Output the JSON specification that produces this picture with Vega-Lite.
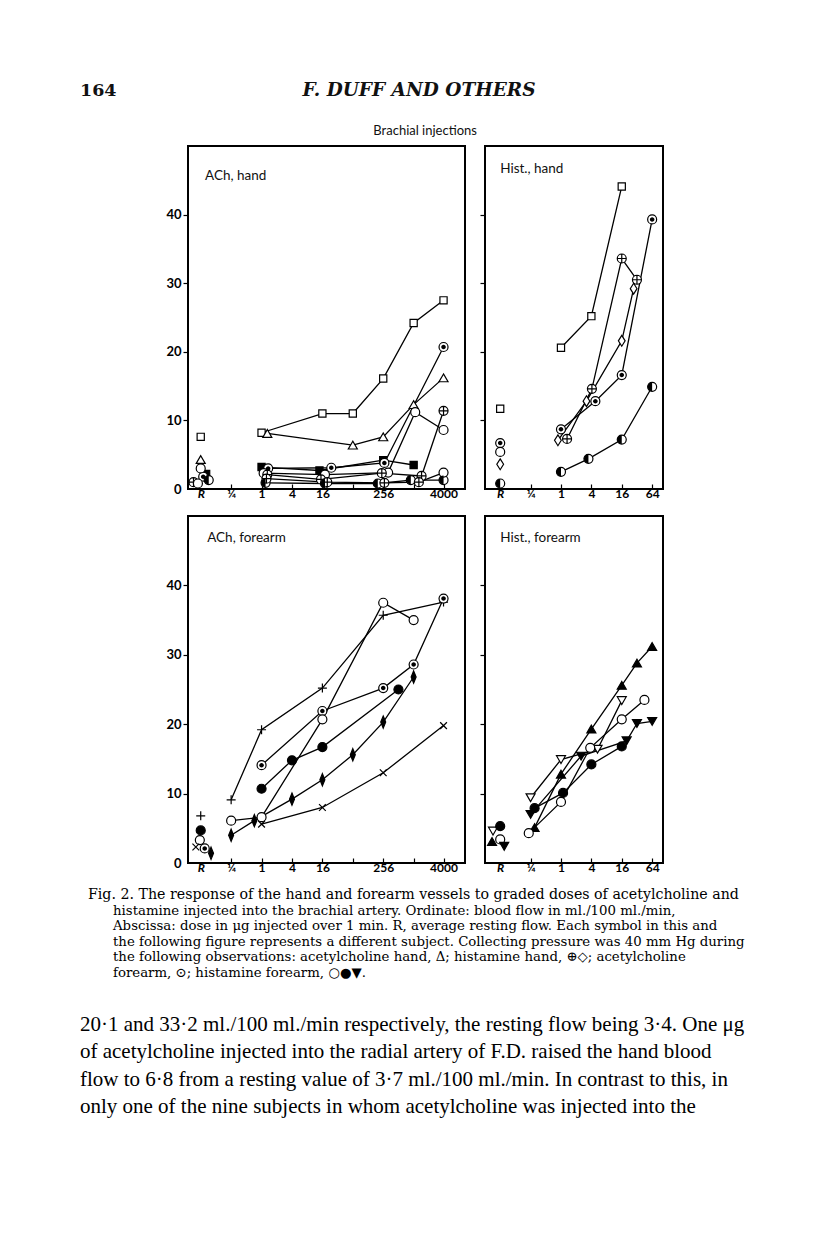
{
  "$schema": "https://vega.github.io/schema/vega-lite/v6.json",
  "background": "white",
  "padding": 0,
  "autosize": {"type": "pad"},
  "spacing": 0,
  "config": {"view": {"stroke": null}, "font": "Lato"},
  "datasets": {
    "ach_hand": [
      {"s": "sq", "sym": "sq", "dose": 1, "flow": 8.2},
      {"s": "sq", "sym": "sq", "dose": 16, "flow": 11.0},
      {"s": "sq", "sym": "sq", "dose": 64, "flow": 11.0},
      {"s": "sq", "sym": "sq", "dose": 256, "flow": 16.1},
      {"s": "sq", "sym": "sq", "dose": 1024, "flow": 24.2},
      {"s": "sq", "sym": "sq", "dose": 4000, "flow": 27.5},
      {"s": "Rsq", "sym": "sq", "dose": 0.0625, "flow": 7.6},
      {"s": "tri", "sym": "tri", "dose": 1.3, "flow": 8.1},
      {"s": "tri", "sym": "tri", "dose": 64, "flow": 6.4},
      {"s": "tri", "sym": "tri", "dose": 256, "flow": 7.6},
      {"s": "tri", "sym": "tri", "dose": 1024, "flow": 12.3},
      {"s": "tri", "sym": "tri", "dose": 4000, "flow": 16.2},
      {"s": "Rtri", "sym": "tri", "dose": 0.0625, "flow": 4.3},
      {"s": "A", "sym": "sqf", "dose": 1, "flow": 3.2},
      {"s": "A", "sym": "sqf", "dose": 14, "flow": 2.7},
      {"s": "A", "sym": "sqf", "dose": 256, "flow": 4.2},
      {"s": "A", "sym": "sqf", "dose": 1024, "flow": 3.5},
      {"s": "RA", "sym": "sqf", "dose": 0.08, "flow": 2.2},
      {"s": "B", "sym": "dot", "dose": 1.35, "flow": 3.0},
      {"s": "B", "sym": "dot", "dose": 24, "flow": 3.1},
      {"s": "B", "sym": "dot", "dose": 270, "flow": 3.8},
      {"s": "B", "sym": "dot", "dose": 4000, "flow": 20.7},
      {"s": "RB", "sym": "dot", "dose": 0.07, "flow": 1.8},
      {"s": "C", "sym": "circ", "dose": 1.1, "flow": 2.3},
      {"s": "C", "sym": "circ", "dose": 18, "flow": 2.1},
      {"s": "C", "sym": "circ", "dose": 320, "flow": 2.4},
      {"s": "C", "sym": "circ", "dose": 1100, "flow": 11.2},
      {"s": "C", "sym": "circ", "dose": 4000, "flow": 8.6},
      {"s": "RC", "sym": "circ", "dose": 0.0625, "flow": 3.0},
      {"s": "D", "sym": "plusc", "dose": 1.3, "flow": 2.1},
      {"s": "D", "sym": "plusc", "dose": 15, "flow": 1.4},
      {"s": "D", "sym": "plusc", "dose": 240, "flow": 2.3},
      {"s": "D", "sym": "plusc", "dose": 1470, "flow": 1.9},
      {"s": "D", "sym": "plusc", "dose": 4000, "flow": 11.4},
      {"s": "RD", "sym": "plusc", "dose": 0.045, "flow": 1.0},
      {"s": "E", "sym": "half", "dose": 1.2, "flow": 0.9},
      {"s": "E", "sym": "half", "dose": 18, "flow": 0.8},
      {"s": "E", "sym": "half", "dose": 200, "flow": 0.8},
      {"s": "E", "sym": "half", "dose": 900, "flow": 1.3},
      {"s": "E", "sym": "half", "dose": 4000, "flow": 1.3},
      {"s": "RE", "sym": "half", "dose": 0.09, "flow": 1.3},
      {"s": "F", "sym": "plusc", "dose": 1.25, "flow": 1.5},
      {"s": "F", "sym": "plusc", "dose": 20, "flow": 1.0},
      {"s": "F", "sym": "plusc", "dose": 270, "flow": 0.9},
      {"s": "F", "sym": "plusc", "dose": 1300, "flow": 1.0},
      {"s": "F", "sym": "circ", "dose": 4000, "flow": 2.4},
      {"s": "RF", "sym": "circ", "dose": 0.055, "flow": 0.8}
    ],
    "hist_hand": [
      {"s": "sq", "sym": "sq", "dose": 1, "flow": 20.6},
      {"s": "sq", "sym": "sq", "dose": 4, "flow": 25.2},
      {"s": "sq", "sym": "sq", "dose": 16, "flow": 44.1},
      {"s": "Rsq", "sym": "sq", "dose": 0.0625, "flow": 11.7},
      {"s": "dot", "sym": "dot", "dose": 1, "flow": 8.7},
      {"s": "dot", "sym": "dot", "dose": 4.8, "flow": 12.8},
      {"s": "dot", "sym": "dot", "dose": 16, "flow": 16.6},
      {"s": "dot", "sym": "dot", "dose": 64, "flow": 39.3},
      {"s": "Rdot", "sym": "dot", "dose": 0.0625, "flow": 6.7},
      {"s": "pc", "sym": "plusc", "dose": 1.32, "flow": 7.3},
      {"s": "pc", "sym": "plusc", "dose": 4.1, "flow": 14.6},
      {"s": "pc", "sym": "plusc", "dose": 16, "flow": 33.6},
      {"s": "pc", "sym": "plusc", "dose": 32, "flow": 30.5},
      {"s": "Rc", "sym": "circ", "dose": 0.0625, "flow": 5.4},
      {"s": "dia", "sym": "dia", "dose": 0.87, "flow": 7.1},
      {"s": "dia", "sym": "dia", "dose": 3.2, "flow": 12.8},
      {"s": "dia", "sym": "dia", "dose": 16, "flow": 21.6},
      {"s": "dia", "sym": "dia", "dose": 27.5, "flow": 29.2},
      {"s": "Rdia", "sym": "dia", "dose": 0.0625, "flow": 3.6},
      {"s": "half", "sym": "half", "dose": 1, "flow": 2.5},
      {"s": "half", "sym": "half", "dose": 3.5, "flow": 4.4},
      {"s": "half", "sym": "half", "dose": 16, "flow": 7.2},
      {"s": "half", "sym": "half", "dose": 64, "flow": 14.9},
      {"s": "Rhalf", "sym": "half", "dose": 0.0625, "flow": 0.8}
    ],
    "ach_forearm": [
      {"s": "plus", "sym": "plus", "dose": 0.25, "flow": 9.1},
      {"s": "plus", "sym": "plus", "dose": 1, "flow": 19.2},
      {"s": "plus", "sym": "plus", "dose": 16, "flow": 25.2},
      {"s": "plus", "sym": "plus", "dose": 256, "flow": 35.7},
      {"s": "plus", "sym": "plus", "dose": 4000, "flow": 37.6},
      {"s": "Rplus", "sym": "plus", "dose": 0.0625, "flow": 6.8},
      {"s": "dot", "sym": "dot", "dose": 1, "flow": 14.1},
      {"s": "dot", "sym": "dot", "dose": 16, "flow": 21.9},
      {"s": "dot", "sym": "dot", "dose": 256, "flow": 25.2},
      {"s": "dot", "sym": "dot", "dose": 1024, "flow": 28.6},
      {"s": "dot", "sym": "dot", "dose": 4000, "flow": 38.1},
      {"s": "Rdot", "sym": "dot", "dose": 0.075, "flow": 2.1},
      {"s": "circ", "sym": "circ", "dose": 0.25, "flow": 6.1},
      {"s": "circ", "sym": "circ", "dose": 1, "flow": 6.6},
      {"s": "circ", "sym": "circ", "dose": 16, "flow": 20.7},
      {"s": "circ", "sym": "circ", "dose": 256, "flow": 37.5},
      {"s": "circ", "sym": "circ", "dose": 1024, "flow": 35.0},
      {"s": "Rcirc", "sym": "circ", "dose": 0.06, "flow": 3.3},
      {"s": "circf", "sym": "circf", "dose": 1, "flow": 10.7},
      {"s": "circf", "sym": "circf", "dose": 4, "flow": 14.8},
      {"s": "circf", "sym": "circf", "dose": 16, "flow": 16.7},
      {"s": "circf", "sym": "circf", "dose": 512, "flow": 25.0},
      {"s": "Rcircf", "sym": "circf", "dose": 0.0625, "flow": 4.7},
      {"s": "diaf", "sym": "diaf", "dose": 0.25, "flow": 4.0},
      {"s": "diaf", "sym": "diaf", "dose": 0.72, "flow": 6.1},
      {"s": "diaf", "sym": "diaf", "dose": 4, "flow": 9.2},
      {"s": "diaf", "sym": "diaf", "dose": 16, "flow": 12.0},
      {"s": "diaf", "sym": "diaf", "dose": 64, "flow": 15.6},
      {"s": "diaf", "sym": "diaf", "dose": 256, "flow": 20.3},
      {"s": "diaf", "sym": "diaf", "dose": 1024, "flow": 26.8},
      {"s": "Rdiaf", "sym": "diaf", "dose": 0.1, "flow": 1.4},
      {"s": "x", "sym": "x", "dose": 1, "flow": 5.6},
      {"s": "x", "sym": "x", "dose": 16, "flow": 8.0},
      {"s": "x", "sym": "x", "dose": 256, "flow": 13.0},
      {"s": "x", "sym": "x", "dose": 4000, "flow": 19.8},
      {"s": "Rx", "sym": "x", "dose": 0.05, "flow": 2.3}
    ],
    "hist_forearm": [
      {"s": "trif", "sym": "trif", "dose": 0.3, "flow": 5.1},
      {"s": "trif", "sym": "trif", "dose": 1, "flow": 12.8},
      {"s": "trif", "sym": "trif", "dose": 4, "flow": 19.3},
      {"s": "trif", "sym": "trif", "dose": 16, "flow": 25.6},
      {"s": "trif", "sym": "trif", "dose": 32, "flow": 28.8},
      {"s": "trif", "sym": "trif", "dose": 64, "flow": 31.2},
      {"s": "Rtrif", "sym": "trif", "dose": 0.0431, "flow": 3.1},
      {"s": "trid", "sym": "trid", "dose": 0.25, "flow": 9.4},
      {"s": "trid", "sym": "trid", "dose": 1, "flow": 14.9},
      {"s": "trid", "sym": "trid", "dose": 5.3, "flow": 16.4},
      {"s": "trid", "sym": "trid", "dose": 16, "flow": 23.4},
      {"s": "Rtrid", "sym": "trid", "dose": 0.045, "flow": 4.6},
      {"s": "circ", "sym": "circ", "dose": 0.23, "flow": 4.3},
      {"s": "circ", "sym": "circ", "dose": 1, "flow": 8.8},
      {"s": "circ", "sym": "circ", "dose": 3.8, "flow": 16.6},
      {"s": "circ", "sym": "circ", "dose": 16, "flow": 20.7},
      {"s": "circ", "sym": "circ", "dose": 45, "flow": 23.5},
      {"s": "Rcirc", "sym": "circ", "dose": 0.0625, "flow": 3.4},
      {"s": "circf", "sym": "circf", "dose": 0.3, "flow": 7.9},
      {"s": "circf", "sym": "circf", "dose": 1.1, "flow": 10.1},
      {"s": "circf", "sym": "circf", "dose": 4, "flow": 14.2},
      {"s": "circf", "sym": "circf", "dose": 16, "flow": 16.8},
      {"s": "Rcircf", "sym": "circf", "dose": 0.0625, "flow": 5.3},
      {"s": "tridf", "sym": "tridf", "dose": 0.25, "flow": 7.0},
      {"s": "tridf", "sym": "tridf", "dose": 2.5, "flow": 15.4},
      {"s": "tridf", "sym": "tridf", "dose": 20, "flow": 17.6},
      {"s": "tridf", "sym": "tridf", "dose": 32, "flow": 20.1},
      {"s": "tridf", "sym": "tridf", "dose": 64, "flow": 20.4},
      {"s": "Rtridf", "sym": "tridf", "dose": 0.075, "flow": 2.4}
    ]
  },
  "vconcat": [
    {
      "width": 816, "height": 145,
      "data": {"values": [
        {"role": "folio", "text": "164"},
        {"role": "head", "text": "F. DUFF AND OTHERS"},
        {"role": "fig", "text": "Brachial injections"}
      ]},
      "layer": [
        {"transform": [{"filter": "datum.role == 'folio'"}],
         "mark": {"type": "text", "align": "left", "baseline": "alphabetic", "font": "DejaVu Serif", "fontWeight": "bold", "fontSize": 17.5, "color": "#111"},
         "encoding": {"x": {"datum": 0.098, "type": "quantitative", "scale": {"domain": [0, 1]}, "axis": null},
                      "y": {"datum": 0.662, "type": "quantitative", "scale": {"domain": [0, 1], "reverse": true}, "axis": null},
                      "text": {"field": "text"}}},
        {"transform": [{"filter": "datum.role == 'head'"}],
         "mark": {"type": "text", "align": "center", "baseline": "alphabetic", "font": "DejaVu Serif", "fontWeight": "bold", "fontStyle": "italic", "fontSize": 18.5, "color": "#111"},
         "encoding": {"x": {"datum": 0.5135, "type": "quantitative"}, "y": {"datum": 0.662, "type": "quantitative"}, "text": {"field": "text"}}},
        {"transform": [{"filter": "datum.role == 'fig'"}],
         "mark": {"type": "text", "align": "center", "baseline": "alphabetic", "font": "Lato", "fontSize": 13, "color": "#111"},
         "encoding": {"x": {"datum": 0.521, "type": "quantitative"}, "y": {"datum": 0.931, "type": "quantitative"}, "text": {"field": "text"}}}
      ]
    },
    {
      "bounds": "flush",
      "align": "each",
      "columns": 3,
      "spacing": {"row": 27, "column": 20},
      "concat": [
        {"width": 168, "height": 343, "data": {"values": []}, "mark": "point", "encoding": {}},
        {
          "width": 277, "height": 343,
          "data": {"name": "ach_hand"},
          "view": {"stroke": "black", "strokeWidth": 2},
          "layer": [
            {"transform": [{"filter": "datum.dose > 0.1"}],
             "mark": {"type": "line", "color": "black", "strokeWidth": 1.3},
             "encoding": {
               "x": {"field": "dose", "type": "quantitative", "scale": {"type": "log", "base": 4, "domain": [0.035, 10640], "nice": false},
                     "axis": {"values": [0.0625, 0.25, 1, 4, 16, 64, 256, 1024, 4000], "title": null, "grid": false, "domain": false, "tickSize": -5, "tickColor": "black", "tickWidth": 1.2,
                              "labelExpr": "datum.value < 0.1 ? 'R' : datum.value < 0.3 ? '¼' : (datum.value == 64 || datum.value == 1024) ? '' : format(datum.value, 'd')",
                              "labelFont": "Lato", "labelFontWeight": "bold", "labelFontSize": 12, "labelColor": "black", "labelPadding": 4,
                              "labelFontStyle": {"condition": {"test": "datum.value < 0.1", "value": "italic"}, "value": "normal"},
                              "tickOpacity": {"condition": {"test": "datum.value < 0.1", "value": 0}, "value": 1}}},
               "y": {"field": "flow", "type": "quantitative", "scale": {"domain": [0, 50], "nice": false},
                     "axis": {"values": [0, 10, 20, 30, 40], "title": null, "grid": false, "domain": false, "tickSize": 5, "tickColor": "black", "tickWidth": 1.2,
                              "labelFont": "Lato", "labelFontWeight": "bold", "labelFontSize": 13, "labelColor": "black", "labelPadding": 2,
                              "tickOpacity": {"condition": {"test": "datum.value == 0", "value": 0}, "value": 1}}},
               "detail": {"field": "s"}
             }},
            {"mark": {"type": "point", "filled": true, "stroke": "black", "strokeWidth": 1.2, "size": 81, "opacity": 1},
             "encoding": {
               "x": {"field": "dose", "type": "quantitative"},
               "y": {"field": "flow", "type": "quantitative"},
               "shape": {"field": "sym", "type": "nominal", "legend": null, "scale": {
                 "domain": ["sq", "sqf", "tri", "trif", "trid", "tridf", "circ", "circf", "dot", "plusc", "half", "dia", "diaf", "plus", "x"],
                 "range": ["M-0.8,-0.8H0.8V0.8H-0.8Z", "M-0.8,-0.8H0.8V0.8H-0.8Z", "triangle-up", "triangle-up", "triangle-down", "triangle-down", "circle", "circle", "circle", "M-1,0A1,1,0,1,1,1,0A1,1,0,1,1,-1,0ZM-1,0H1M0,-1V1", "circle", "M0,-1.2L0.75,0L0,1.2L-0.75,0Z", "M0,-1.35L0.55,0L0,1.35L-0.55,0Z", "M-1,0H1M0,-1V1", "M-0.75,-0.75L0.75,0.75M-0.75,0.75L0.75,-0.75"]}},
               "fill": {"field": "sym", "type": "nominal", "legend": null, "scale": {
                 "domain": ["sq", "sqf", "tri", "trif", "trid", "tridf", "circ", "circf", "dot", "plusc", "half", "dia", "diaf", "plus", "x"],
                 "range": ["white", "black", "white", "black", "white", "black", "white", "black", "white", "white", "white", "white", "black", "white", "white"]}}
             }},
            {"transform": [{"filter": {"field": "sym", "oneOf": ["dot", "half"]}}],
             "mark": {"type": "point", "filled": true, "strokeWidth": 0, "size": 81, "opacity": 1, "color": "black"},
             "encoding": {
               "x": {"field": "dose", "type": "quantitative"},
               "y": {"field": "flow", "type": "quantitative"},
               "shape": {"field": "sym", "type": "nominal", "legend": null, "scale": {"domain": ["dot", "half"], "range": ["M-0.5,0A0.5,0.5,0,1,1,0.5,0A0.5,0.5,0,1,1,-0.5,0Z", "M0,-1A1,1,0,0,0,0,1Z"]}}
             }},
            {"data": {"values": [{"label": "ACh, hand"}]},
             "mark": {"type": "text", "align": "left", "baseline": "middle", "font": "Lato", "fontSize": 13.5, "color": "#111"},
             "encoding": {"x": {"datum": 0.076, "type": "quantitative"}, "y": {"datum": 45.6, "type": "quantitative"}, "text": {"field": "label"}}}
          ],
          "resolve": {"scale": {"shape": "independent"}}
        },
        {
          "width": 178, "height": 343,
          "data": {"name": "hist_hand"},
          "view": {"stroke": "black", "strokeWidth": 2},
          "layer": [
            {"transform": [{"filter": "datum.dose > 0.1"}],
             "mark": {"type": "line", "color": "black", "strokeWidth": 1.3},
             "encoding": {
               "x": {"field": "dose", "type": "quantitative", "scale": {"type": "log", "base": 4, "domain": [0.03125, 105], "nice": false},
                     "axis": {"values": [0.0625, 0.25, 1, 4, 16, 64], "title": null, "grid": false, "domain": false, "tickSize": -5, "tickColor": "black", "tickWidth": 1.2,
                              "labelExpr": "datum.value < 0.1 ? 'R' : datum.value < 0.3 ? '¼' : format(datum.value, 'd')",
                              "labelFont": "Lato", "labelFontWeight": "bold", "labelFontSize": 12, "labelColor": "black", "labelPadding": 4,
                              "labelFontStyle": {"condition": {"test": "datum.value < 0.1", "value": "italic"}, "value": "normal"},
                              "tickOpacity": {"condition": {"test": "datum.value < 0.1", "value": 0}, "value": 1}}},
               "y": {"field": "flow", "type": "quantitative", "scale": {"domain": [0, 50], "nice": false},
                     "axis": {"values": [10, 20, 30, 40], "title": null, "grid": false, "domain": false, "tickSize": 5, "tickColor": "black", "tickWidth": 1.2, "labels": false}},
               "detail": {"field": "s"}
             }},
            {"mark": {"type": "point", "filled": true, "stroke": "black", "strokeWidth": 1.2, "size": 81, "opacity": 1},
             "encoding": {
               "x": {"field": "dose", "type": "quantitative"},
               "y": {"field": "flow", "type": "quantitative"},
               "shape": {"field": "sym", "type": "nominal", "legend": null, "scale": {
                 "domain": ["sq", "sqf", "tri", "trif", "trid", "tridf", "circ", "circf", "dot", "plusc", "half", "dia", "diaf", "plus", "x"],
                 "range": ["M-0.8,-0.8H0.8V0.8H-0.8Z", "M-0.8,-0.8H0.8V0.8H-0.8Z", "triangle-up", "triangle-up", "triangle-down", "triangle-down", "circle", "circle", "circle", "M-1,0A1,1,0,1,1,1,0A1,1,0,1,1,-1,0ZM-1,0H1M0,-1V1", "circle", "M0,-1.2L0.75,0L0,1.2L-0.75,0Z", "M0,-1.35L0.55,0L0,1.35L-0.55,0Z", "M-1,0H1M0,-1V1", "M-0.75,-0.75L0.75,0.75M-0.75,0.75L0.75,-0.75"]}},
               "fill": {"field": "sym", "type": "nominal", "legend": null, "scale": {
                 "domain": ["sq", "sqf", "tri", "trif", "trid", "tridf", "circ", "circf", "dot", "plusc", "half", "dia", "diaf", "plus", "x"],
                 "range": ["white", "black", "white", "black", "white", "black", "white", "black", "white", "white", "white", "white", "black", "white", "white"]}}
             }},
            {"transform": [{"filter": {"field": "sym", "oneOf": ["dot", "half"]}}],
             "mark": {"type": "point", "filled": true, "strokeWidth": 0, "size": 81, "opacity": 1, "color": "black"},
             "encoding": {
               "x": {"field": "dose", "type": "quantitative"},
               "y": {"field": "flow", "type": "quantitative"},
               "shape": {"field": "sym", "type": "nominal", "legend": null, "scale": {"domain": ["dot", "half"], "range": ["M-0.5,0A0.5,0.5,0,1,1,0.5,0A0.5,0.5,0,1,1,-0.5,0Z", "M0,-1A1,1,0,0,0,0,1Z"]}}
             }},
            {"data": {"values": [{"label": "Hist., hand"}]},
             "mark": {"type": "text", "align": "left", "baseline": "middle", "font": "Lato", "fontSize": 13.5, "color": "#111"},
             "encoding": {"x": {"datum": 0.0625, "type": "quantitative"}, "y": {"datum": 46.6, "type": "quantitative"}, "text": {"field": "label"}}}
          ],
          "resolve": {"scale": {"shape": "independent"}}
        },
        {"width": 168, "height": 347, "data": {"values": []}, "mark": "point", "encoding": {}},
        {
          "width": 277, "height": 347,
          "data": {"name": "ach_forearm"},
          "view": {"stroke": "black", "strokeWidth": 2},
          "layer": [
            {"transform": [{"filter": "datum.dose > 0.1"}],
             "mark": {"type": "line", "color": "black", "strokeWidth": 1.3},
             "encoding": {
               "x": {"field": "dose", "type": "quantitative", "scale": {"type": "log", "base": 4, "domain": [0.035, 10640], "nice": false},
                     "axis": {"values": [0.0625, 0.25, 1, 4, 16, 64, 256, 1024, 4000], "title": null, "grid": false, "domain": false, "tickSize": -5, "tickColor": "black", "tickWidth": 1.2,
                              "labelExpr": "datum.value < 0.1 ? 'R' : datum.value < 0.3 ? '¼' : (datum.value == 64 || datum.value == 1024) ? '' : format(datum.value, 'd')",
                              "labelFont": "Lato", "labelFontWeight": "bold", "labelFontSize": 12, "labelColor": "black", "labelPadding": 4,
                              "labelFontStyle": {"condition": {"test": "datum.value < 0.1", "value": "italic"}, "value": "normal"},
                              "tickOpacity": {"condition": {"test": "datum.value < 0.1", "value": 0}, "value": 1}}},
               "y": {"field": "flow", "type": "quantitative", "scale": {"domain": [0, 50], "nice": false},
                     "axis": {"values": [0, 10, 20, 30, 40], "title": null, "grid": false, "domain": false, "tickSize": 5, "tickColor": "black", "tickWidth": 1.2,
                              "labelFont": "Lato", "labelFontWeight": "bold", "labelFontSize": 13, "labelColor": "black", "labelPadding": 2,
                              "tickOpacity": {"condition": {"test": "datum.value == 0", "value": 0}, "value": 1}}},
               "detail": {"field": "s"}
             }},
            {"mark": {"type": "point", "filled": true, "stroke": "black", "strokeWidth": 1.2, "size": 81, "opacity": 1},
             "encoding": {
               "x": {"field": "dose", "type": "quantitative"},
               "y": {"field": "flow", "type": "quantitative"},
               "shape": {"field": "sym", "type": "nominal", "legend": null, "scale": {
                 "domain": ["sq", "sqf", "tri", "trif", "trid", "tridf", "circ", "circf", "dot", "plusc", "half", "dia", "diaf", "plus", "x"],
                 "range": ["M-0.8,-0.8H0.8V0.8H-0.8Z", "M-0.8,-0.8H0.8V0.8H-0.8Z", "triangle-up", "triangle-up", "triangle-down", "triangle-down", "circle", "circle", "circle", "M-1,0A1,1,0,1,1,1,0A1,1,0,1,1,-1,0ZM-1,0H1M0,-1V1", "circle", "M0,-1.2L0.75,0L0,1.2L-0.75,0Z", "M0,-1.35L0.55,0L0,1.35L-0.55,0Z", "M-1,0H1M0,-1V1", "M-0.75,-0.75L0.75,0.75M-0.75,0.75L0.75,-0.75"]}},
               "fill": {"field": "sym", "type": "nominal", "legend": null, "scale": {
                 "domain": ["sq", "sqf", "tri", "trif", "trid", "tridf", "circ", "circf", "dot", "plusc", "half", "dia", "diaf", "plus", "x"],
                 "range": ["white", "black", "white", "black", "white", "black", "white", "black", "white", "white", "white", "white", "black", "white", "white"]}}
             }},
            {"transform": [{"filter": {"field": "sym", "oneOf": ["dot", "half"]}}],
             "mark": {"type": "point", "filled": true, "strokeWidth": 0, "size": 81, "opacity": 1, "color": "black"},
             "encoding": {
               "x": {"field": "dose", "type": "quantitative"},
               "y": {"field": "flow", "type": "quantitative"},
               "shape": {"field": "sym", "type": "nominal", "legend": null, "scale": {"domain": ["dot", "half"], "range": ["M-0.5,0A0.5,0.5,0,1,1,0.5,0A0.5,0.5,0,1,1,-0.5,0Z", "M0,-1A1,1,0,0,0,0,1Z"]}}
             }},
            {"data": {"values": [{"label": "ACh, forearm"}]},
             "mark": {"type": "text", "align": "left", "baseline": "middle", "font": "Lato", "fontSize": 13.5, "color": "#111"},
             "encoding": {"x": {"datum": 0.084, "type": "quantitative"}, "y": {"datum": 46.8, "type": "quantitative"}, "text": {"field": "label"}}}
          ],
          "resolve": {"scale": {"shape": "independent"}}
        },
        {
          "width": 178, "height": 347,
          "data": {"name": "hist_forearm"},
          "view": {"stroke": "black", "strokeWidth": 2},
          "layer": [
            {"transform": [{"filter": "datum.dose > 0.1"}],
             "mark": {"type": "line", "color": "black", "strokeWidth": 1.3},
             "encoding": {
               "x": {"field": "dose", "type": "quantitative", "scale": {"type": "log", "base": 4, "domain": [0.03125, 105], "nice": false},
                     "axis": {"values": [0.0625, 0.25, 1, 4, 16, 64], "title": null, "grid": false, "domain": false, "tickSize": -5, "tickColor": "black", "tickWidth": 1.2,
                              "labelExpr": "datum.value < 0.1 ? 'R' : datum.value < 0.3 ? '¼' : format(datum.value, 'd')",
                              "labelFont": "Lato", "labelFontWeight": "bold", "labelFontSize": 12, "labelColor": "black", "labelPadding": 4,
                              "labelFontStyle": {"condition": {"test": "datum.value < 0.1", "value": "italic"}, "value": "normal"},
                              "tickOpacity": {"condition": {"test": "datum.value < 0.1", "value": 0}, "value": 1}}},
               "y": {"field": "flow", "type": "quantitative", "scale": {"domain": [0, 50], "nice": false},
                     "axis": {"values": [10, 20, 30, 40], "title": null, "grid": false, "domain": false, "tickSize": 5, "tickColor": "black", "tickWidth": 1.2, "labels": false}},
               "detail": {"field": "s"}
             }},
            {"mark": {"type": "point", "filled": true, "stroke": "black", "strokeWidth": 1.2, "size": 81, "opacity": 1},
             "encoding": {
               "x": {"field": "dose", "type": "quantitative"},
               "y": {"field": "flow", "type": "quantitative"},
               "shape": {"field": "sym", "type": "nominal", "legend": null, "scale": {
                 "domain": ["sq", "sqf", "tri", "trif", "trid", "tridf", "circ", "circf", "dot", "plusc", "half", "dia", "diaf", "plus", "x"],
                 "range": ["M-0.8,-0.8H0.8V0.8H-0.8Z", "M-0.8,-0.8H0.8V0.8H-0.8Z", "triangle-up", "triangle-up", "triangle-down", "triangle-down", "circle", "circle", "circle", "M-1,0A1,1,0,1,1,1,0A1,1,0,1,1,-1,0ZM-1,0H1M0,-1V1", "circle", "M0,-1.2L0.75,0L0,1.2L-0.75,0Z", "M0,-1.35L0.55,0L0,1.35L-0.55,0Z", "M-1,0H1M0,-1V1", "M-0.75,-0.75L0.75,0.75M-0.75,0.75L0.75,-0.75"]}},
               "fill": {"field": "sym", "type": "nominal", "legend": null, "scale": {
                 "domain": ["sq", "sqf", "tri", "trif", "trid", "tridf", "circ", "circf", "dot", "plusc", "half", "dia", "diaf", "plus", "x"],
                 "range": ["white", "black", "white", "black", "white", "black", "white", "black", "white", "white", "white", "white", "black", "white", "white"]}}
             }},
            {"transform": [{"filter": {"field": "sym", "oneOf": ["dot", "half"]}}],
             "mark": {"type": "point", "filled": true, "strokeWidth": 0, "size": 81, "opacity": 1, "color": "black"},
             "encoding": {
               "x": {"field": "dose", "type": "quantitative"},
               "y": {"field": "flow", "type": "quantitative"},
               "shape": {"field": "sym", "type": "nominal", "legend": null, "scale": {"domain": ["dot", "half"], "range": ["M-0.5,0A0.5,0.5,0,1,1,0.5,0A0.5,0.5,0,1,1,-0.5,0Z", "M0,-1A1,1,0,0,0,0,1Z"]}}
             }},
            {"data": {"values": [{"label": "Hist., forearm"}]},
             "mark": {"type": "text", "align": "left", "baseline": "middle", "font": "Lato", "fontSize": 13.5, "color": "#111"},
             "encoding": {"x": {"datum": 0.0625, "type": "quantitative"}, "y": {"datum": 46.8, "type": "quantitative"}, "text": {"field": "label"}}}
          ],
          "resolve": {"scale": {"shape": "independent"}}
        }
      ]
    },
    {
      "width": 816, "height": 369,
      "layer": [
        {"data": {"values": [
           {"line": 1, "text": "Fig. 2. The response of the hand and forearm vessels to graded doses of acetylcholine and"}
         ]},
         "mark": {"type": "text", "align": "left", "baseline": "middle", "font": "DejaVu Serif", "fontSize": 14.2, "color": "#000"},
         "encoding": {"x": {"datum": 0.1078, "type": "quantitative", "scale": {"domain": [0, 1]}, "axis": null},
                      "y": {"field": "line", "type": "quantitative", "scale": {"domain": [-0.346, 23.31], "reverse": true, "nice": false, "zero": false}, "axis": null},
                      "text": {"field": "text"}}},
        {"data": {"values": [
           {"line": 2, "text": "histamine injected into the brachial artery. Ordinate: blood flow in ml./100 ml./min,"},
           {"line": 3, "text": "Abscissa: dose in μg injected over 1 min. R, average resting flow. Each symbol in this and"},
           {"line": 4, "text": "the following figure represents a different subject. Collecting pressure was 40 mm Hg during"},
           {"line": 5, "text": "the following observations: acetylcholine hand, Δ; histamine hand, ⊕◇; acetylcholine"},
           {"line": 6, "text": "forearm, ⊙; histamine forearm, ○●▼."}
         ]},
         "mark": {"type": "text", "align": "left", "baseline": "middle", "font": "DejaVu Serif", "fontSize": 13.3, "color": "#000"},
         "encoding": {"x": {"datum": 0.1385, "type": "quantitative", "axis": null},
                      "y": {"field": "line", "type": "quantitative", "scale": {"domain": [-0.346, 23.31], "reverse": true, "nice": false, "zero": false}, "axis": null},
                      "text": {"field": "text"}}},
        {"data": {"values": [
           {"bline": 1, "text": "20·1 and 33·2 ml./100 ml./min respectively, the resting flow being 3·4. One μg"},
           {"bline": 2, "text": "of acetylcholine injected into the radial artery of F.D. raised the hand blood"},
           {"bline": 3, "text": "flow to 6·8 from a resting value of 3·7 ml./100 ml./min. In contrast to this, in"},
           {"bline": 4, "text": "only one of the nine subjects in whom acetylcholine was injected into the"}
         ]},
         "mark": {"type": "text", "align": "left", "baseline": "middle", "font": "Liberation Serif", "fontSize": 21, "color": "#000"},
         "encoding": {"x": {"datum": 0.098, "type": "quantitative", "axis": null},
                      "y": {"field": "bline", "type": "quantitative", "scale": {"domain": [-4.531, 8.985], "reverse": true, "nice": false, "zero": false}, "axis": null},
                      "text": {"field": "text"}}}
      ],
      "resolve": {"scale": {"y": "independent"}}
    }
  ]
}
